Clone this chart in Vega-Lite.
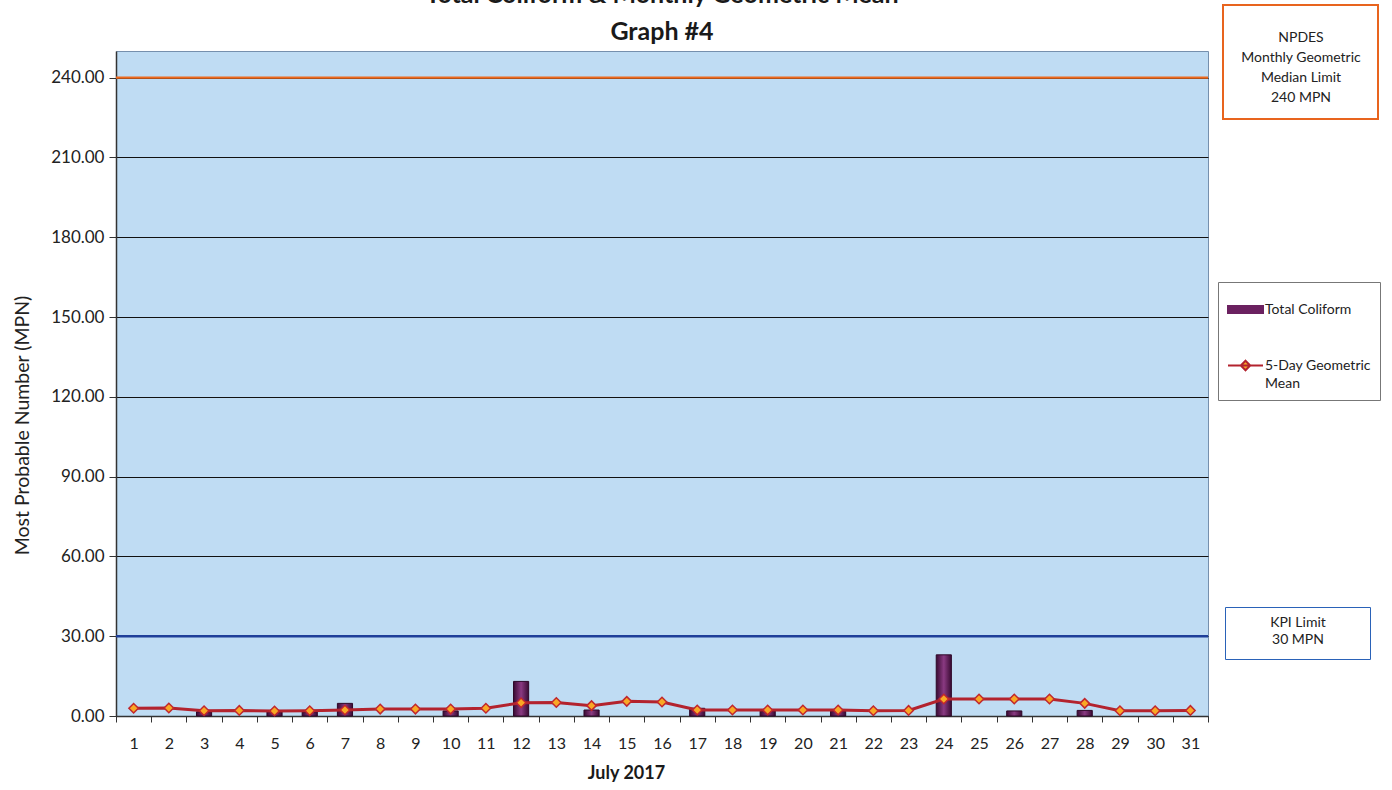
{
  "$schema": "https://vega.github.io/schema/vega-lite/v6.json",
  "width": 1092,
  "height": 665,
  "autosize": "none",
  "padding": {"left": 116, "top": 51, "right": 184, "bottom": 74},
  "background": "white",
  "config": {
    "font": "Lato",
    "view": {"fill": "#bfdcf3", "stroke": "#7690ad", "strokeWidth": 1}
  },
  "title": {
    "text": ["Total Coliform & Monthly Geometric Mean", "Graph #4"],
    "fontSize": 25,
    "fontWeight": "bold",
    "color": "#1a1a1a",
    "lineHeight": 37,
    "anchor": "middle",
    "offset": 8,
    "dy": 49
  },
  "datasets": {
    "daily": [
      {"day": 1, "coliform": null, "geomean": 2.9},
      {"day": 2, "coliform": null, "geomean": 3.0},
      {"day": 3, "coliform": 1.6, "geomean": 2.0},
      {"day": 4, "coliform": null, "geomean": 2.1},
      {"day": 5, "coliform": 1.6, "geomean": 1.9},
      {"day": 6, "coliform": 1.5, "geomean": 2.0},
      {"day": 7, "coliform": 4.75, "geomean": 2.25},
      {"day": 8, "coliform": null, "geomean": 2.6},
      {"day": 9, "coliform": null, "geomean": 2.6},
      {"day": 10, "coliform": 1.9, "geomean": 2.6},
      {"day": 11, "coliform": null, "geomean": 2.9},
      {"day": 12, "coliform": 13.0, "geomean": 5.0},
      {"day": 13, "coliform": null, "geomean": 5.1},
      {"day": 14, "coliform": 2.25, "geomean": 3.9},
      {"day": 15, "coliform": null, "geomean": 5.5},
      {"day": 16, "coliform": null, "geomean": 5.25},
      {"day": 17, "coliform": 2.9, "geomean": 2.25},
      {"day": 18, "coliform": null, "geomean": 2.25},
      {"day": 19, "coliform": 1.9, "geomean": 2.25},
      {"day": 20, "coliform": null, "geomean": 2.25},
      {"day": 21, "coliform": 1.9, "geomean": 2.25},
      {"day": 22, "coliform": null, "geomean": 2.0},
      {"day": 23, "coliform": null, "geomean": 2.1},
      {"day": 24, "coliform": 23.0, "geomean": 6.4},
      {"day": 25, "coliform": null, "geomean": 6.4},
      {"day": 26, "coliform": 1.9, "geomean": 6.4},
      {"day": 27, "coliform": null, "geomean": 6.4},
      {"day": 28, "coliform": 2.1, "geomean": 4.75},
      {"day": 29, "coliform": null, "geomean": 2.0},
      {"day": 30, "coliform": null, "geomean": 2.0},
      {"day": 31, "coliform": null, "geomean": 2.1}
    ],
    "limits": [
      {"name": "NPDES", "value": 240},
      {"name": "KPI", "value": 30}
    ]
  },
  "layer": [
    {
      "data": {"name": "daily"},
      "mark": {
        "type": "bar",
        "width": {"band": 0.43},
        "fill": {
          "gradient": "linear", "x1": 0, "x2": 1, "y1": 0, "y2": 0,
          "stops": [
            {"offset": 0, "color": "#3a0b33"},
            {"offset": 0.5, "color": "#8a3a82"},
            {"offset": 1, "color": "#3a0b33"}
          ]
        },
        "stroke": "#2e0828",
        "strokeWidth": 1
      },
      "encoding": {
        "x": {
          "field": "day", "type": "ordinal",
          "scale": {"paddingInner": 0, "paddingOuter": 0},
          "axis": {
            "title": "July 2017",
            "titleFontSize": 18,
            "titleFontWeight": "bold",
            "titleColor": "#1a1a1a",
            "titlePadding": 13,
            "titleX": 510,
            "labelAngle": 0,
            "labelFontSize": 16,
            "labelColor": "#222",
            "labelPadding": 13,
            "tickBand": "extent",
            "tickSize": 6,
            "tickColor": "#333",
            "domainColor": "#333",
            "domainWidth": 1.5,
            "grid": false
          }
        },
        "y": {
          "field": "coliform", "type": "quantitative",
          "scale": {"domain": [0, 250], "nice": false, "zero": true},
          "axis": {
            "title": "Most Probable Number (MPN)",
            "titleFontSize": 19.5,
            "titleFontWeight": "normal",
            "titleColor": "#222",
            "titlePadding": 18,
            "titleY": 374,
            "values": [0, 30, 60, 90, 120, 150, 180, 210, 240],
            "format": ".2f",
            "labelFontSize": 17,
            "labelColor": "#222",
            "labelPadding": 5,
            "tickSize": 7,
            "tickColor": "#333",
            "domainColor": "#333",
            "domainWidth": 1.5,
            "grid": true,
            "gridColor": "#111",
            "gridWidth": 1
          }
        }
      }
    },
    {
      "data": {"name": "daily"},
      "mark": {"type": "line", "strokeWidth": 3},
      "encoding": {
        "x": {"field": "day", "type": "ordinal"},
        "y": {"field": "geomean", "type": "quantitative"},
        "stroke": {
          "datum": "5-Day Geometric Mean",
          "type": "nominal",
          "scale": {
            "domain": ["Total Coliform", "5-Day Geometric Mean"],
            "range": ["#6b2160", "#b3232e"]
          },
          "legend": {
            "orient": "none",
            "legendX": 1102,
            "legendY": 231,
            "title": null,
            "padding": 9,
            "fillColor": "white",
            "strokeColor": "#777",
            "symbolSize": 1225,
            "labelOffset": 1,
            "labelFontSize": 14,
            "labelColor": "#222",
            "labelLimit": 300,
            "labelBaseline": "middle",
            "rowPadding": 30,
            "labelExpr": "datum.value == '5-Day Geometric Mean' ? ['5-Day Geometric', 'Mean'] : datum.label",
            "encode": {
              "labels": {"update": {"lineHeight": {"value": 18}}},
              "symbols": {
                "update": {
                  "shape": {"signal": "datum.value == 'Total Coliform' ? 'M-1,-0.2H1V0.2H-1Z' : 'M-1,0H1M0,-0.27L0.27,0L0,0.27L-0.27,0Z'"},
                  "fill": {"signal": "datum.value == 'Total Coliform' ? '#6b2160' : '#f9a825'"},
                  "stroke": {"signal": "datum.value == 'Total Coliform' ? '#4a1042' : '#c1272d'"},
                  "strokeWidth": {"value": 2},
                  "opacity": {"value": 1},
                  "fillOpacity": {"value": 1},
                  "strokeOpacity": {"value": 1}
                }
              }
            }
          }
        }
      }
    },
    {
      "data": {"name": "daily"},
      "mark": {"type": "point", "shape": "diamond", "size": 90, "filled": true, "fill": "#f9a825", "stroke": "#c1272d", "strokeWidth": 1.5, "opacity": 1},
      "encoding": {
        "x": {"field": "day", "type": "ordinal"},
        "y": {"field": "geomean", "type": "quantitative"}
      }
    },
    {
      "data": {"name": "limits"},
      "transform": [{"filter": "datum.name == 'NPDES'"}],
      "mark": {"type": "rule", "strokeWidth": 2.2},
      "encoding": {
        "y": {"field": "value", "type": "quantitative"},
        "color": {
          "field": "name", "type": "nominal",
          "scale": {"range": ["#ee6a1f"]},
          "legend": {
            "orient": "none",
            "legendX": 1107,
            "legendY": -46,
            "title": ["NPDES", "Monthly Geometric", "Median Limit", "240 MPN"],
            "titleOrient": "bottom",
            "titleFontSize": 14,
            "titleFontWeight": "normal",
            "titleColor": "#222",
            "titleAlign": "center",
            "titleAnchor": "middle",
            "titleLineHeight": 20,
            "titleLimit": 400,
            "titlePadding": 10,
            "padding": 14,
            "fillColor": "white",
            "strokeColor": "#e8641e",
            "symbolSize": 1,
            "symbolOpacity": 0,
            "labelExpr": "''",
            "labelFontSize": 1,
            "labelOffset": 124,
            "encode": {"legend": {"update": {"strokeWidth": {"value": 2}}}}
          }
        }
      }
    },
    {
      "data": {"name": "limits"},
      "transform": [{"filter": "datum.name == 'KPI'"}],
      "mark": {"type": "rule", "strokeWidth": 2.5, "color": "#1f3f99"},
      "encoding": {
        "y": {"field": "value", "type": "quantitative"},
        "strokeDash": {
          "field": "name", "type": "nominal",
          "scale": {"range": [[1, 0]]},
          "legend": {
            "orient": "none",
            "legendX": 1109,
            "legendY": 556,
            "title": ["KPI Limit", "30 MPN"],
            "titleFontSize": 14,
            "titleFontWeight": "normal",
            "titleColor": "#222",
            "titleAlign": "center",
            "titleAnchor": "middle",
            "titleLineHeight": 17,
            "titleLimit": 400,
            "titlePadding": 2,
            "padding": 9,
            "fillColor": "white",
            "strokeColor": "#2a62b8",
            "symbolSize": 1,
            "symbolOpacity": 0,
            "symbolStrokeWidth": 0,
            "labelExpr": "''",
            "labelFontSize": 1,
            "labelOffset": 126,
            "encode": {"legend": {"update": {"strokeWidth": {"value": 2}}}}
          }
        }
      }
    }
  ]
}
